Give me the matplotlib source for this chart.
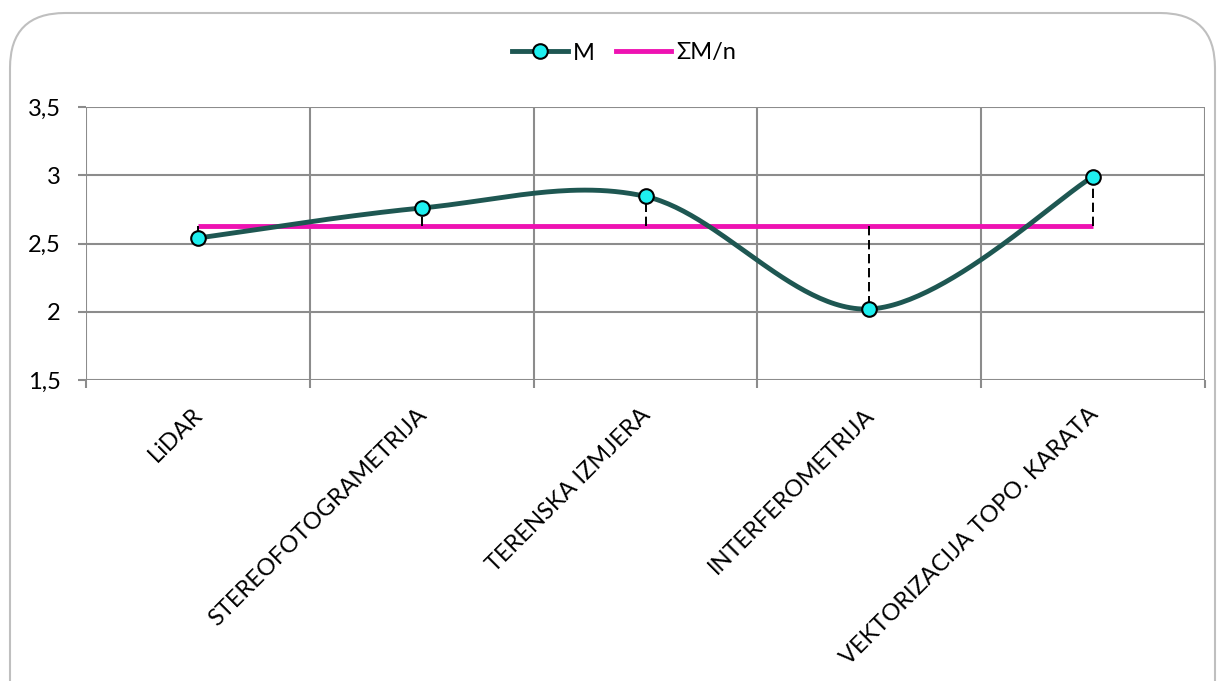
import numpy as np
import matplotlib
matplotlib.use("Agg")
import matplotlib.pyplot as plt
from matplotlib.patches import FancyBboxPatch
from matplotlib.lines import Line2D

categories = ["LiDAR", "STEREOFOTOGRAMETRIJA", "TERENSKA IZMJERA",
              "INTERFEROMETRIJA", "VEKTORIZACIJA TOPO. KARATA"]
m_values = [2.54, 2.76, 2.845, 2.02, 2.99]
mean_value = 2.63
y_ticks = [1.5, 2.0, 2.5, 3.0, 3.5]
y_tick_labels = ["1,5", "2", "2,5", "3", "3,5"]

plt.rcParams['font.family'] = ['Lato', 'DejaVu Sans']
FS = 17

W, H = 1223, 681
fig = plt.figure(figsize=(W / 100, H / 100), dpi=100)

# rounded chart border
border = FancyBboxPatch((10 / W, -0.2), (1215 - 10) / W, (H - 13) / H + 0.2,
                        boxstyle="round,pad=0,rounding_size=0.045",
                        transform=fig.transFigure, fill=False,
                        edgecolor="#BFBFBF", linewidth=1.5, mutation_aspect=W / H)
fig.patches.append(border)

left, right, top, bottom = 86, 1205, 107, 380
ax = fig.add_axes([left / W, 1 - bottom / H, (right - left) / W, (bottom - top) / H])

n = len(categories)
x = np.arange(n)
ax.set_xlim(-0.5, n - 0.5)
ax.set_ylim(1.5, 3.5)

grid_c = "#8C8C8C"
for yv in y_ticks:
    ax.axhline(yv, color=grid_c, lw=1.5, zorder=1)
for xb in np.arange(-0.5, n, 1.0):
    ax.axvline(xb, color=grid_c, lw=1.5, zorder=1)

for s in ax.spines.values():
    s.set_visible(False)

ax.set_yticks(y_ticks)
ax.set_yticklabels(y_tick_labels, fontsize=FS)
ax.tick_params(axis='y', length=6, width=1.5, color=grid_c, pad=12)
ax.set_xticks(np.arange(-0.5, n, 1.0))
ax.set_xticklabels([])
ax.tick_params(axis='x', length=6, width=1.5, color=grid_c)
for i, lab in enumerate(categories):
    ax.text(i - 0.025, 1.325, lab, rotation=45, ha='right', va='top',
            rotation_mode='anchor', fontsize=FS, transform=ax.transData)

# Excel-style smoothed curve (Catmull-Rom bezier)
pts = np.column_stack([x.astype(float), np.array(m_values)])
curve = []
t = np.linspace(0, 1, 60)
for i in range(n - 1):
    p0 = pts[max(i - 1, 0)]
    p1 = pts[i]
    p2 = pts[i + 1]
    p3 = pts[min(i + 2, n - 1)]
    c1 = p1 + (p2 - p0) / 6
    c2 = p2 - (p3 - p1) / 6
    seg = ((1 - t) ** 3)[:, None] * p1 + (3 * (1 - t) ** 2 * t)[:, None] * c1 + \
          (3 * (1 - t) * t ** 2)[:, None] * c2 + (t ** 3)[:, None] * p2
    curve.append(seg)
curve = np.vstack(curve)

line_c = "#1E5752"
mag_c = "#EE12B2"
ax.plot([x[0], x[-1]], [mean_value, mean_value], color=mag_c, lw=3.5,
        solid_capstyle='butt', zorder=3)
for xi, v in zip(x, m_values):
    ax.plot([xi, xi], [mean_value, v], color="black", lw=1.4,
            ls=(0, (4.8, 2.4)), zorder=4)
ax.plot(curve[:, 0], curve[:, 1], color=line_c, lw=3.5, zorder=5)
ax.plot(x, m_values, ls='none', marker='o', ms=10.5, mfc="#1EEFEF",
        mec="black", mew=1.5, zorder=6)

handles = [Line2D([], [], color=line_c, lw=3.5, marker='o', ms=10.5,
                  mfc="#1EEFEF", mec="black", mew=1.5),
           Line2D([], [], color=mag_c, lw=3.5)]
fig.legend(handles, ["M", "ΣM/n"], loc='center', bbox_to_anchor=(624 / W, 1 - 53 / H),
           ncol=2, frameon=False, fontsize=FS, handlelength=2.35,
           columnspacing=0.9, handletextpad=0.2)

fig.savefig("out.png", dpi=100)
